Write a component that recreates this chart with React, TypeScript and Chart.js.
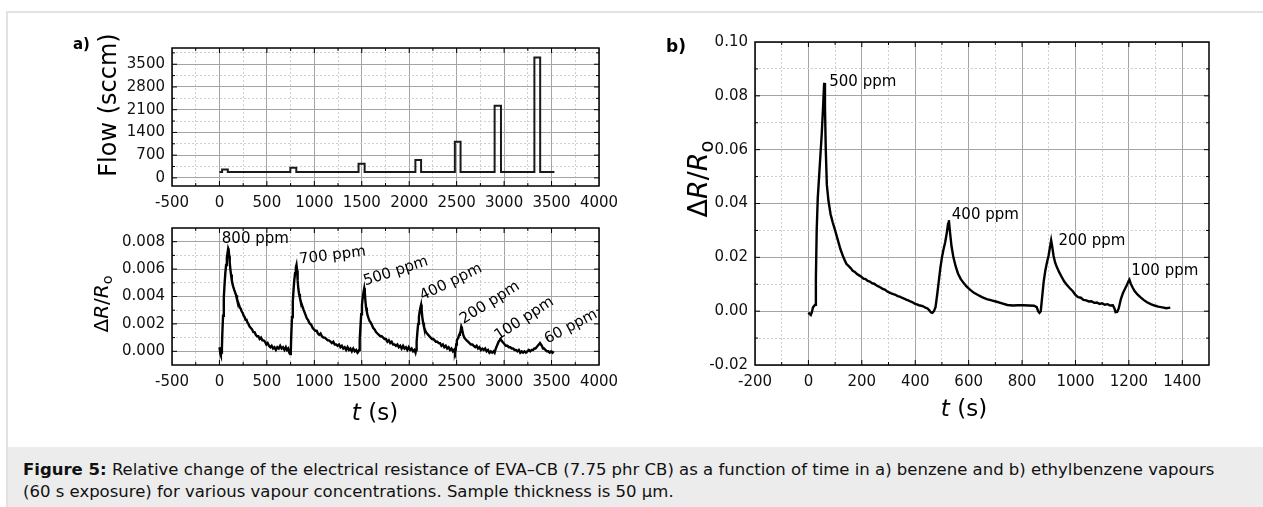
import React, { useEffect, useRef } from "react";
import { Chart, registerables } from "chart.js";
Chart.register(...registerables);

const FONT = "'DejaVu Sans', sans-serif";

// ---------- (a) top: gas flow ----------
const flowTimes = [0, 28, 88, 747, 810, 1466, 1530, 2065, 2125, 2481, 2541, 2900, 2967, 3319, 3380, 3530];
const flowValues = [185, 260, 185, 315, 185, 437, 185, 550, 185, 1110, 185, 2220, 185, 3710, 185, 185];
const leftXMajor = [-500, 0, 500, 1000, 1500, 2000, 2500, 3000, 3500, 4000];
const leftXMinor = [-250, 250, 750, 1250, 1750, 2250, 2750, 3250, 3750];
const flowYMajor = [0, 700, 1400, 2100, 2800, 3500];
const flowYMinor = [350, 1050, 1750, 2450, 3150, 3850];

// ---------- (a) bottom: benzene response ----------
const benzeneSeries: [number, number][] = [
  [0, 0.0003], [5, 0.0001], [10, -0.0002], [15, -0.0003], [20, -0.0001], [26, 0.0002], [30, 0.0012],
  [38, 0.0026], [46, 0.0039], [54, 0.0049], [62, 0.0057], [70, 0.0063], [78, 0.0068], [86, 0.0072],
  [92, 0.0075], [97, 0.0074], [102, 0.007], [108, 0.0065], [115, 0.006], [122, 0.0056], [130, 0.0052],
  [138, 0.0049], [146, 0.0047], [155, 0.0045], [165, 0.0043], [175, 0.0041], [185, 0.0038], [195, 0.0036],
  [205, 0.0034], [215, 0.0032], [225, 0.0031], [235, 0.0029], [245, 0.0028], [255, 0.0026], [265, 0.0025],
  [275, 0.0023], [285, 0.0023], [295, 0.0021], [305, 0.002], [318, 0.0018], [331, 0.0017], [344, 0.0016],
  [357, 0.0014], [370, 0.0014], [383, 0.0012], [396, 0.0011], [410, 0.0011], [424, 0.0009], [438, 0.001],
  [452, 0.0008], [466, 0.0008], [480, 0.0007], [494, 0.0005], [508, 0.0006], [522, 0.0004], [536, 0.0003],
  [550, 0.0004], [565, 0.0002], [580, 0.0003], [595, 0.0001], [610, 0.0003], [625, 0.0002], [640, 0.0004],
  [655, 0.0002], [670, 0.0003], [685, 0.0001], [700, 0.0003], [712, 0.0001], [724, 0.0002], [736, -0.0001],
  [745, -0.0002],
  [752, 0.0], [757, 0.0012], [765, 0.0025], [773, 0.0036], [781, 0.0045], [789, 0.0052], [797, 0.0057],
  [805, 0.0061], [812, 0.0063], [818, 0.0059], [824, 0.0052], [831, 0.0046], [839, 0.0042], [848, 0.0039],
  [858, 0.0036], [868, 0.0034], [878, 0.0032], [888, 0.003], [899, 0.0028], [910, 0.0026], [921, 0.0024],
  [933, 0.0023], [945, 0.0021], [957, 0.002], [970, 0.0019], [983, 0.0017], [996, 0.0016], [1010, 0.0015],
  [1024, 0.0015], [1038, 0.0013], [1052, 0.0012], [1066, 0.0013], [1080, 0.0011], [1095, 0.001], [1110, 0.001],
  [1125, 0.0009], [1140, 0.0008], [1155, 0.0008], [1170, 0.0007], [1185, 0.0006], [1200, 0.0007], [1215, 0.0005],
  [1230, 0.0005], [1245, 0.0004], [1260, 0.0005], [1275, 0.0003], [1290, 0.0004], [1305, 0.0002], [1320, 0.0003],
  [1335, 0.0001], [1350, 0.0003], [1365, 0.0001], [1380, 0.0002], [1395, 0.0], [1410, 0.0002], [1425, 0.0],
  [1440, 0.0001], [1455, -0.0001], [1466, 0.0],
  [1472, 0.0001], [1478, 0.0008], [1486, 0.0018], [1494, 0.0027], [1502, 0.0034], [1510, 0.0039], [1518, 0.0043],
  [1526, 0.0046], [1532, 0.0043], [1538, 0.0037], [1545, 0.0032], [1553, 0.0029], [1562, 0.0026], [1572, 0.0024],
  [1583, 0.0022], [1595, 0.0021], [1608, 0.0019], [1621, 0.0017], [1635, 0.0016], [1650, 0.0014], [1665, 0.0013],
  [1680, 0.0012], [1695, 0.0011], [1710, 0.0011], [1725, 0.001], [1740, 0.0009], [1755, 0.0009], [1770, 0.0007],
  [1785, 0.0008], [1800, 0.0006], [1815, 0.0007], [1830, 0.0005], [1845, 0.0005], [1860, 0.0004], [1875, 0.0005],
  [1890, 0.0003], [1905, 0.0004], [1920, 0.0002], [1935, 0.0004], [1950, 0.0002], [1965, 0.0003], [1980, 0.0001],
  [1995, 0.0003], [2010, 0.0001], [2025, 0.0002], [2040, 0.0], [2055, 0.0001], [2066, -0.0001],
  [2072, 0.0001], [2078, 0.0007], [2086, 0.0014], [2094, 0.002], [2102, 0.0025], [2110, 0.0029], [2118, 0.0032],
  [2125, 0.0034], [2131, 0.003], [2138, 0.0025], [2146, 0.0021], [2155, 0.0018], [2165, 0.0016], [2176, 0.0014],
  [2188, 0.0013], [2200, 0.0012], [2213, 0.0011], [2226, 0.001], [2240, 0.0009], [2254, 0.0009], [2268, 0.0008],
  [2282, 0.0007], [2296, 0.0007], [2310, 0.0006], [2325, 0.0006], [2340, 0.0004], [2355, 0.0005], [2370, 0.0003],
  [2385, 0.0004], [2400, 0.0002], [2415, 0.0003], [2430, 0.0001], [2445, 0.0002], [2460, 0.0], [2472, 0.0001],
  [2482, -0.0001],
  [2490, 0.0001], [2495, 0.0005], [2502, 0.0008], [2510, 0.0009], [2518, 0.001], [2526, 0.0012], [2534, 0.0013],
  [2542, 0.0015], [2549, 0.0018], [2555, 0.0017], [2562, 0.0014], [2570, 0.0012], [2580, 0.001], [2592, 0.0009],
  [2605, 0.0008], [2620, 0.0007], [2635, 0.0006], [2650, 0.0005], [2665, 0.0005], [2680, 0.0004], [2695, 0.0003],
  [2710, 0.0004], [2725, 0.0002], [2740, 0.0003], [2755, 0.0001], [2770, 0.0002], [2785, 0.0001], [2800, 0.0002],
  [2815, 0.0], [2830, 0.0001], [2845, -0.0001], [2860, 0.0], [2875, -0.0001], [2890, 0.0], [2900, -0.0001],
  [2908, 0.0001], [2918, 0.0003], [2930, 0.0005], [2942, 0.0007], [2954, 0.0008], [2963, 0.0009], [2972, 0.0008],
  [2982, 0.0007], [2994, 0.0006], [3007, 0.0005], [3020, 0.0004], [3035, 0.0004], [3050, 0.0003], [3065, 0.0003],
  [3080, 0.0002], [3095, 0.0002], [3110, 0.0001], [3125, 0.0001], [3140, 0.0], [3155, 0.0001], [3170, -0.0001],
  [3185, 0.0], [3200, -0.0001], [3215, 0.0], [3230, -0.0001], [3245, 0.0], [3260, 0.0001], [3275, 0.0],
  [3290, 0.0001], [3305, 0.0001], [3318, 0.0002],
  [3330, 0.0002], [3342, 0.0003], [3354, 0.0004], [3366, 0.0005], [3378, 0.0006], [3388, 0.0005], [3398, 0.0004],
  [3410, 0.0002], [3422, 0.0002], [3435, 0.0001], [3450, 0.0], [3465, 0.0], [3480, -0.0001], [3495, 0.0],
  [3510, -0.0001], [3522, 0.0],
];
const benzeneYMajor = [0, 0.002, 0.004, 0.006, 0.008];
const benzeneYMinor = [0.001, 0.003, 0.005, 0.007];
const benzeneLabelTexts = ["800 ppm", "700 ppm", "500 ppm", "400 ppm", "200 ppm", "100 ppm", "60 ppm"];
const benzeneLabelTimes = [25, 846, 1536, 2140, 2572, 2939, 3456];
const benzeneLabelValues = [0.0079, 0.0064, 0.0048, 0.0037, 0.002, 0.0008, 0.00055];
const benzeneLabelAngles = [0, -7, -18, -26, -32, -33, -28];

// ---------- (b) ethylbenzene response ----------
const ethylSeries: [number, number][] = [
  [0, -0.0005], [4, -0.001], [9, -0.0014], [13, -0.0004], [17, 0.0014], [22, 0.002], [25, 0.0024],
  [28, 0.012], [31, 0.03], [35, 0.042], [40, 0.05], [45, 0.058], [50, 0.066], [55, 0.076], [59, 0.0848],
  [62, 0.076], [65, 0.06], [69, 0.047], [75, 0.041], [83, 0.036], [91, 0.033], [100, 0.03], [110, 0.0265],
  [120, 0.023], [131, 0.02], [142, 0.0176], [150, 0.0168], [158, 0.016], [166, 0.015], [174, 0.0146],
  [182, 0.0138], [190, 0.0133], [198, 0.0128], [206, 0.0121], [214, 0.0119], [222, 0.0112], [230, 0.011],
  [238, 0.0104], [246, 0.0102], [254, 0.0096], [262, 0.0092], [270, 0.0088], [278, 0.0083], [286, 0.008],
  [294, 0.0074], [302, 0.007], [310, 0.0066], [318, 0.0063], [326, 0.0061], [334, 0.0056], [342, 0.0054],
  [350, 0.005], [358, 0.0047], [366, 0.0043], [374, 0.004], [382, 0.0036], [390, 0.0033], [398, 0.0028],
  [406, 0.0025], [414, 0.0022], [422, 0.002], [430, 0.0018], [438, 0.0013], [446, 0.001], [452, 0.0004],
  [458, -0.0004], [464, -0.0006], [470, 0.0], [476, 0.0015], [482, 0.006], [488, 0.011], [494, 0.016],
  [500, 0.02], [506, 0.023], [512, 0.0255], [518, 0.029], [523, 0.0325], [526, 0.0338], [530, 0.0295],
  [536, 0.024], [543, 0.02], [551, 0.0168], [560, 0.014], [570, 0.012], [580, 0.0106], [592, 0.0092],
  [605, 0.008], [620, 0.0068], [635, 0.006], [650, 0.0052], [668, 0.0045], [686, 0.004], [705, 0.0035],
  [725, 0.0029], [745, 0.0023], [765, 0.0021], [785, 0.0022], [805, 0.0022], [825, 0.0021], [845, 0.002],
  [855, 0.0015], [860, 0.0], [865, -0.0006], [870, 0.0], [875, 0.005], [881, 0.011], [887, 0.015],
  [893, 0.018], [899, 0.0205], [905, 0.024], [909, 0.0263], [913, 0.024], [918, 0.0205], [924, 0.018],
  [931, 0.0162], [939, 0.0145], [948, 0.0128], [958, 0.011], [968, 0.0097], [978, 0.0086], [990, 0.0074],
  [1000, 0.006], [1010, 0.0052], [1020, 0.005], [1030, 0.0042], [1040, 0.004], [1050, 0.0036], [1060, 0.0037],
  [1070, 0.0031], [1080, 0.0032], [1090, 0.0027], [1100, 0.0029], [1110, 0.0024], [1120, 0.0026], [1130, 0.0021],
  [1140, 0.0022], [1146, 0.001], [1150, -0.0004], [1156, -0.0003], [1162, 0.001], [1170, 0.0045], [1178, 0.0068],
  [1186, 0.0084], [1193, 0.0098], [1198, 0.011], [1202, 0.0117], [1207, 0.0102], [1214, 0.0088], [1222, 0.0074],
  [1232, 0.0062], [1243, 0.0052], [1255, 0.0042], [1268, 0.0033], [1282, 0.0026], [1296, 0.0021], [1310, 0.0017],
  [1325, 0.0014], [1340, 0.0011], [1355, 0.0013],
];
const ethylXMajor = [-200, 0, 200, 400, 600, 800, 1000, 1200, 1400];
const ethylXMinor = [-100, 100, 300, 500, 700, 900, 1100, 1300];
const ethylYMajor = [-0.02, 0, 0.02, 0.04, 0.06, 0.08, 0.1];
const ethylYMinor = [-0.01, 0.01, 0.03, 0.05, 0.07, 0.09];
const ethylLabelTexts = ["500 ppm", "400 ppm", "200 ppm", "100 ppm"];
const ethylLabelTimes = [78, 537, 936, 1209];
const ethylLabelValues = [0.085, 0.0357, 0.0262, 0.0147];

// ---------- helpers ----------
function makeIsMajor(major: number[], span: number) {
  return (v: number) => major.some((m) => Math.abs(m - v) < span * 1e-6);
}

function makeScale(axis: "x" | "y", min: number, max: number, major: number[], minor: number[],
  fmt: (v: number) => string, fit: number, pad: number) {
  const isMajor = makeIsMajor(major, max - min);
  const all = [...major, ...minor].filter((v) => v >= min - 1e-9 && v <= max + 1e-9).sort((a, b) => a - b);
  return {
    type: "linear",
    position: axis === "x" ? "bottom" : "left",
    min,
    max,
    afterBuildTicks: (s: any) => { s.ticks = all.map((v) => ({ value: v })); },
    afterFit: (s: any) => { if (axis === "x") s.height = fit; else s.width = fit; },
    grid: {
      drawTicks: false,
      lineWidth: 1,
      color: (c: any) => (c.tick && isMajor(c.tick.value) ? "#a4a4a4" : "#d0d0d0"),
    },
    border: {
      display: false,
      dash: (c: any) => (c.type === "tick" && c.tick && !isMajor(c.tick.value) ? [2, 2] : []),
    },
    ticks: {
      autoSkip: false,
      maxRotation: 0,
      padding: pad,
      color: "#111",
      font: { family: FONT, size: 15 },
      callback: (v: any) => (isMajor(Number(v)) ? fmt(Number(v)) : ""),
    },
  };
}

function framePlugin(xMajor: number[], yMajor: number[]) {
  return {
    id: "frame",
    afterDraw(chart: any) {
      const { ctx, chartArea: a, scales } = chart;
      const xs = scales.x, ys = scales.y;
      const xM = makeIsMajor(xMajor, xs.max - xs.min);
      const yM = makeIsMajor(yMajor, ys.max - ys.min);
      ctx.save();
      ctx.strokeStyle = "#000";
      ctx.lineWidth = 1;
      ctx.beginPath();
      xs.ticks.forEach((t: any) => {
        const p = xs.getPixelForValue(t.value);
        if (p <= a.left + 1 || p >= a.right - 1) return;
        const len = xM(t.value) ? 5 : 3;
        ctx.moveTo(p, a.bottom); ctx.lineTo(p, a.bottom - len);
        ctx.moveTo(p, a.top); ctx.lineTo(p, a.top + len);
      });
      ys.ticks.forEach((t: any) => {
        const p = ys.getPixelForValue(t.value);
        if (p <= a.top + 1 || p >= a.bottom - 1) return;
        const len = yM(t.value) ? 5 : 3;
        ctx.moveTo(a.left, p); ctx.lineTo(a.left + len, p);
        ctx.moveTo(a.right, p); ctx.lineTo(a.right - len, p);
      });
      ctx.stroke();
      ctx.lineWidth = 1.5;
      ctx.strokeRect(a.left, a.top, a.right - a.left, a.bottom - a.top);
      ctx.restore();
    },
  };
}

function labelPlugin(texts: string[], ts: number[], vs: number[], angles: number[] | null, baseline: string) {
  return {
    id: "ppmLabels",
    afterDatasetsDraw(chart: any) {
      const { ctx, scales } = chart;
      ctx.save();
      ctx.fillStyle = "#000";
      ctx.font = `15px ${FONT}`;
      ctx.textAlign = "left";
      ctx.textBaseline = baseline;
      texts.forEach((txt, i) => {
        const px = scales.x.getPixelForValue(ts[i]);
        const py = scales.y.getPixelForValue(vs[i]);
        ctx.save();
        ctx.translate(px, py);
        if (angles) ctx.rotate((angles[i] * Math.PI) / 180);
        ctx.fillText(txt, 0, 0);
        ctx.restore();
      });
      ctx.restore();
    },
  };
}

function ChartCanvas(props: { left: number; top: number; width: number; height: number; make: () => any }) {
  const ref = useRef<HTMLCanvasElement | null>(null);
  useEffect(() => {
    const chart = new Chart(ref.current as HTMLCanvasElement, props.make());
    return () => chart.destroy();
  }, []);
  return (
    <canvas
      ref={ref}
      width={props.width}
      height={props.height}
      style={{ position: "absolute", left: props.left, top: props.top, width: props.width, height: props.height }}
    />
  );
}

const baseOptions = {
  responsive: false,
  animation: false,
  devicePixelRatio: 1,
  events: [],
};

function makeFlow() {
  return {
    type: "line",
    data: {
      datasets: [{
        data: flowTimes.map((t, i) => ({ x: t, y: flowValues[i] })),
        stepped: "before",
        borderColor: "#1a1a1a",
        borderWidth: 2,
        pointRadius: 0,
        fill: false,
      }],
    },
    options: {
      ...baseOptions,
      layout: { padding: { top: 48, right: 41, left: 0, bottom: 0 } },
      plugins: { legend: { display: false }, tooltip: { enabled: false } },
      scales: {
        x: makeScale("x", -500, 4000, leftXMajor, leftXMinor, (v) => String(v), 29, 8),
        y: makeScale("y", -250, 4000, flowYMajor, flowYMinor, (v) => String(v), 172, 7),
      },
    },
    plugins: [framePlugin(leftXMajor, flowYMajor)],
  };
}

function makeBenzene() {
  return {
    type: "line",
    data: {
      datasets: [{
        data: benzeneSeries.map(([t, v]) => ({ x: t, y: v })),
        borderColor: "#000",
        borderWidth: 2.4,
        pointRadius: 0,
        tension: 0,
        fill: false,
      }],
    },
    options: {
      ...baseOptions,
      layout: { padding: { top: 28, right: 41, left: 0, bottom: 0 } },
      plugins: { legend: { display: false }, tooltip: { enabled: false } },
      scales: {
        x: makeScale("x", -500, 4000, leftXMajor, leftXMinor, (v) => String(v), 35, 8),
        y: makeScale("y", -0.001, 0.009, benzeneYMajor, benzeneYMinor, (v) => v.toFixed(3), 172, 7),
      },
    },
    plugins: [
      framePlugin(leftXMajor, benzeneYMajor),
      labelPlugin(benzeneLabelTexts, benzeneLabelTimes, benzeneLabelValues, benzeneLabelAngles, "alphabetic"),
    ],
  };
}

function makeEthyl() {
  return {
    type: "line",
    data: {
      datasets: [{
        data: ethylSeries.map(([t, v]) => ({ x: t, y: v })),
        borderColor: "#000",
        borderWidth: 2.4,
        pointRadius: 0,
        tension: 0,
        fill: false,
      }],
    },
    options: {
      ...baseOptions,
      layout: { padding: { top: 42, right: 54, left: 0, bottom: 0 } },
      plugins: { legend: { display: false }, tooltip: { enabled: false } },
      scales: {
        x: makeScale("x", -200, 1500, ethylXMajor, ethylXMinor, (v) => String(v), 35, 8),
        y: makeScale("y", -0.02, 0.1, ethylYMajor, ethylYMinor, (v) => v.toFixed(2), 115, 7),
      },
    },
    plugins: [
      framePlugin(ethylXMajor, ethylYMajor),
      labelPlugin(ethylLabelTexts, ethylLabelTimes, ethylLabelValues, null, "middle"),
    ],
  };
}

function VText(props: { cx: number; cy: number; size: number; children: any }) {
  return (
    <div
      style={{
        position: "absolute",
        left: props.cx,
        top: props.cy,
        transform: "translate(-50%, -50%) rotate(-90deg)",
        fontFamily: FONT,
        fontSize: props.size,
        lineHeight: 1,
        whiteSpace: "nowrap",
        color: "#000",
      }}
    >
      {props.children}
    </div>
  );
}

function HText(props: { cx: number; cy: number; size: number; children: any }) {
  return (
    <div
      style={{
        position: "absolute",
        left: props.cx,
        top: props.cy,
        transform: "translate(-50%, -50%)",
        fontFamily: FONT,
        fontSize: props.size,
        lineHeight: 1,
        whiteSpace: "nowrap",
        color: "#000",
      }}
    >
      {props.children}
    </div>
  );
}

const dR = (
  <span>
    Δ<i>R</i>/<i>R</i>
    <span style={{ fontSize: "0.72em", position: "relative", top: "0.3em" }}>o</span>
  </span>
);

export default function App() {
  return (
    <div style={{ position: "absolute", left: 0, top: 0, width: 1263, height: 507, overflow: "hidden", background: "#fff" }}>
      <div
        style={{
          position: "absolute", left: 6, top: 11, width: 1263, height: 507,
          borderTop: "2px solid #e2e2e2", borderLeft: "2px solid #e2e2e2", boxSizing: "border-box",
        }}
      />
      <ChartCanvas left={0} top={0} width={640} height={215} make={makeFlow} />
      <ChartCanvas left={0} top={200} width={640} height={200} make={makeBenzene} />
      <ChartCanvas left={640} top={0} width={623} height={400} make={makeEthyl} />

      <div style={{ position: "absolute", left: 73, top: 37, fontFamily: FONT, fontWeight: "bold", fontSize: 15, lineHeight: 1 }}>a)</div>
      <div style={{ position: "absolute", left: 666, top: 38, fontFamily: FONT, fontWeight: "bold", fontSize: 17, lineHeight: 1 }}>b)</div>

      <VText cx={108} cy={105} size={24}>Flow (sccm)</VText>
      <VText cx={101} cy={304} size={20}>{dR}</VText>
      <VText cx={697} cy={179} size={27}>{dR}</VText>
      <HText cx={375} cy={412} size={23}><i>t</i> (s)</HText>
      <HText cx={964} cy={408} size={23}><i>t</i> (s)</HText>

      <div
        style={{
          position: "absolute", left: 8, top: 447, width: 1255, height: 60, background: "#ececec",
          boxSizing: "border-box", paddingLeft: 15, paddingTop: 12,
          fontFamily: FONT, fontSize: 16.5, lineHeight: "22.4px", color: "#111", whiteSpace: "nowrap",
        }}
      >
        <b>Figure 5:</b> Relative change of the electrical resistance of EVA–CB (7.75 phr CB) as a function of time in a) benzene and b) ethylbenzene vapours
        <br />
        (60 s exposure) for various vapour concentrations. Sample thickness is 50 µm.
      </div>
    </div>
  );
}
